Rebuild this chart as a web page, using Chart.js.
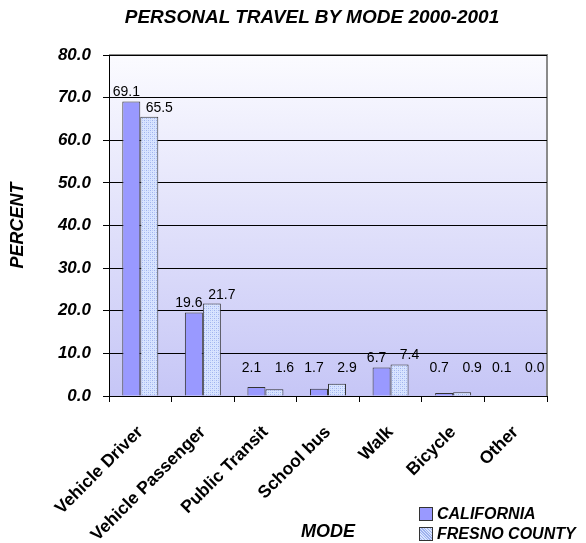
<!DOCTYPE html>
<html lang="en">
<head>
  <meta charset="UTF-8" />
  <title>Personal Travel by Mode 2000-2001</title>
  <script src="https://cdn.jsdelivr.net/npm/chart.js"></script>
  <style>
    html, body { margin: 0; padding: 0; background: #ffffff; }
    #wrap { position: relative; width: 586px; height: 543px; }
    #title {
      position: absolute; left: 0; width: 624px; top: 6px; text-align: center;
      font: italic bold 19px 'Liberation Sans', Arial, sans-serif; color: #000;
    }
    #legend {
      position: absolute; left: 419px; top: 504px;
      font: italic bold 16px 'Liberation Sans', Arial, sans-serif;
      color: #000;
    }
    .leg-item { display: flex; align-items: center; height: 20px; }
    .leg-box { width: 12px; height: 12px; border: 1px solid #333; margin-right: 4px; }
  </style>
</head>
<body>
  <div id="wrap">
    <canvas id="chart" width="586" height="543"></canvas>
    <div id="title">PERSONAL TRAVEL BY MODE 2000-2001</div>
    <div id="legend"></div>
  </div>
  <script>
    const categories = ['Vehicle Driver', 'Vehicle Passenger', 'Public Transit', 'School bus', 'Walk', 'Bicycle', 'Other'];
    const seriesNames = ['CALIFORNIA', 'FRESNO COUNTY'];
    const california = [69.1, 19.6, 2.1, 1.7, 6.7, 0.7, 0.1];
    const fresno = [65.5, 21.7, 1.6, 2.9, 7.4, 0.9, 0.0];
    const yTicks = [0, 10, 20, 30, 40, 50, 60, 70, 80];

    const FONT = "'Liberation Sans', Arial, sans-serif";

    // dotted light-blue fill used for the county bars
    function dotPattern() {
      const c = document.createElement('canvas');
      c.width = 4; c.height = 4;
      const g = c.getContext('2d');
      g.fillStyle = '#d8e4ff';
      g.fillRect(0, 0, 4, 4);
      g.fillStyle = '#9fb2ee';
      g.fillRect(0, 0, 1, 1);
      g.fillRect(2, 2, 1, 1);
      g.fillStyle = '#bccbf8';
      g.fillRect(2, 0, 1, 1);
      g.fillRect(0, 2, 1, 1);
      return document.getElementById('chart').getContext('2d').createPattern(c, 'repeat');
    }

    const calColor = '#9999ff';
    const fresnoFill = dotPattern();

    const plotBackground = {
      id: 'plotBackground',
      beforeDraw(chart) {
        const { ctx, chartArea: a } = chart;
        const grad = ctx.createLinearGradient(0, a.top, 0, a.bottom);
        grad.addColorStop(0, '#fbfbff');
        grad.addColorStop(1, '#c6c6f6');
        ctx.save();
        ctx.fillStyle = grad;
        ctx.fillRect(a.left, a.top, a.right - a.left, a.bottom - a.top);
        ctx.strokeStyle = '#8a8a8a';
        ctx.lineWidth = 2;
        ctx.beginPath();
        ctx.moveTo(a.left, a.top);
        ctx.lineTo(a.right, a.top);
        ctx.lineTo(a.right, a.bottom);
        ctx.stroke();
        ctx.restore();
      }
    };

    const valueLabels = {
      id: 'valueLabels',
      afterDatasetsDraw(chart) {
        const { ctx } = chart;
        const zero = chart.scales.y.getPixelForValue(0);
        ctx.save();
        ctx.font = '14px ' + FONT;
        ctx.fillStyle = '#000';
        ctx.textAlign = 'center';
        ctx.textBaseline = 'alphabetic';
        chart.data.datasets.forEach((ds, i) => {
          const meta = chart.getDatasetMeta(i);
          const dx = i === 0 ? -5 : 10;
          meta.data.forEach((bar, j) => {
            const y = Math.min(bar.y - 5, zero - 24);
            ctx.fillText(ds.data[j].toFixed(1), bar.x + dx, y);
          });
        });
        ctx.restore();
      }
    };

    const chart = new Chart(document.getElementById('chart'), {
      type: 'bar',
      data: {
        labels: categories,
        datasets: [
          { label: seriesNames[0], data: california, backgroundColor: calColor, borderColor: '#333333', borderWidth: 1 },
          { label: seriesNames[1], data: fresno, backgroundColor: fresnoFill, borderColor: '#333333', borderWidth: 1 }
        ]
      },
      options: {
        responsive: false,
        animation: false,
        events: [],
        layout: { padding: { left: 0, right: 39, top: 55, bottom: 0 } },
        datasets: { bar: { categoryPercentage: 0.575, barPercentage: 1.0 } },
        plugins: {
          legend: { display: false },
          tooltip: { enabled: false },
          title: { display: false }
        },
        scales: {
          x: {
            afterFit(scale) { scale.height = 147; },
            grid: { display: true, offset: true, drawOnChartArea: false, color: '#000', tickLength: 6 },
            border: { color: '#000' },
            ticks: {
              color: '#000',
              font: { family: FONT, size: 17.5, weight: 'bold' },
              minRotation: 45, maxRotation: 45, padding: 20
            },
            title: {
              display: true, text: 'MODE', color: '#000',
              font: { family: FONT, size: 18, weight: 'bold', style: 'italic' },
              padding: { top: 0, bottom: 0 }
            }
          },
          y: {
            min: yTicks[0], max: yTicks[yTicks.length - 1],
            afterBuildTicks(scale) { scale.ticks = yTicks.map(v => ({ value: v })); },
            afterFit(scale) { scale.width = 109; },
            grid: { color: '#000', lineWidth: 1, tickLength: 6 },
            border: { color: '#000' },
            ticks: {
              color: '#000',
              font: { family: FONT, size: 17, weight: 'bold', style: 'italic' },
              padding: 12,
              callback: v => v.toFixed(1)
            },
            title: {
              display: true, text: 'PERCENT', color: '#000',
              font: { family: FONT, size: 18, weight: 'bold', style: 'italic' },
              padding: { top: 7, bottom: 0 }
            }
          }
        }
      },
      plugins: [plotBackground, valueLabels]
    });

    // legend in the lower right corner, as in the source chart
    const legend = document.getElementById('legend');
    chart.data.datasets.forEach((ds, i) => {
      const item = document.createElement('div');
      item.className = 'leg-item';
      const box = document.createElement('div');
      box.className = 'leg-box';
      if (i === 0) {
        box.style.background = calColor;
      } else {
        box.style.background = 'repeating-linear-gradient(45deg, #d8e4ff 0 1px, #9fb2ee 1px 2px)';
      }
      const txt = document.createElement('span');
      txt.textContent = ds.label;
      item.appendChild(box);
      item.appendChild(txt);
      legend.appendChild(item);
    });
  </script>
</body>
</html>
